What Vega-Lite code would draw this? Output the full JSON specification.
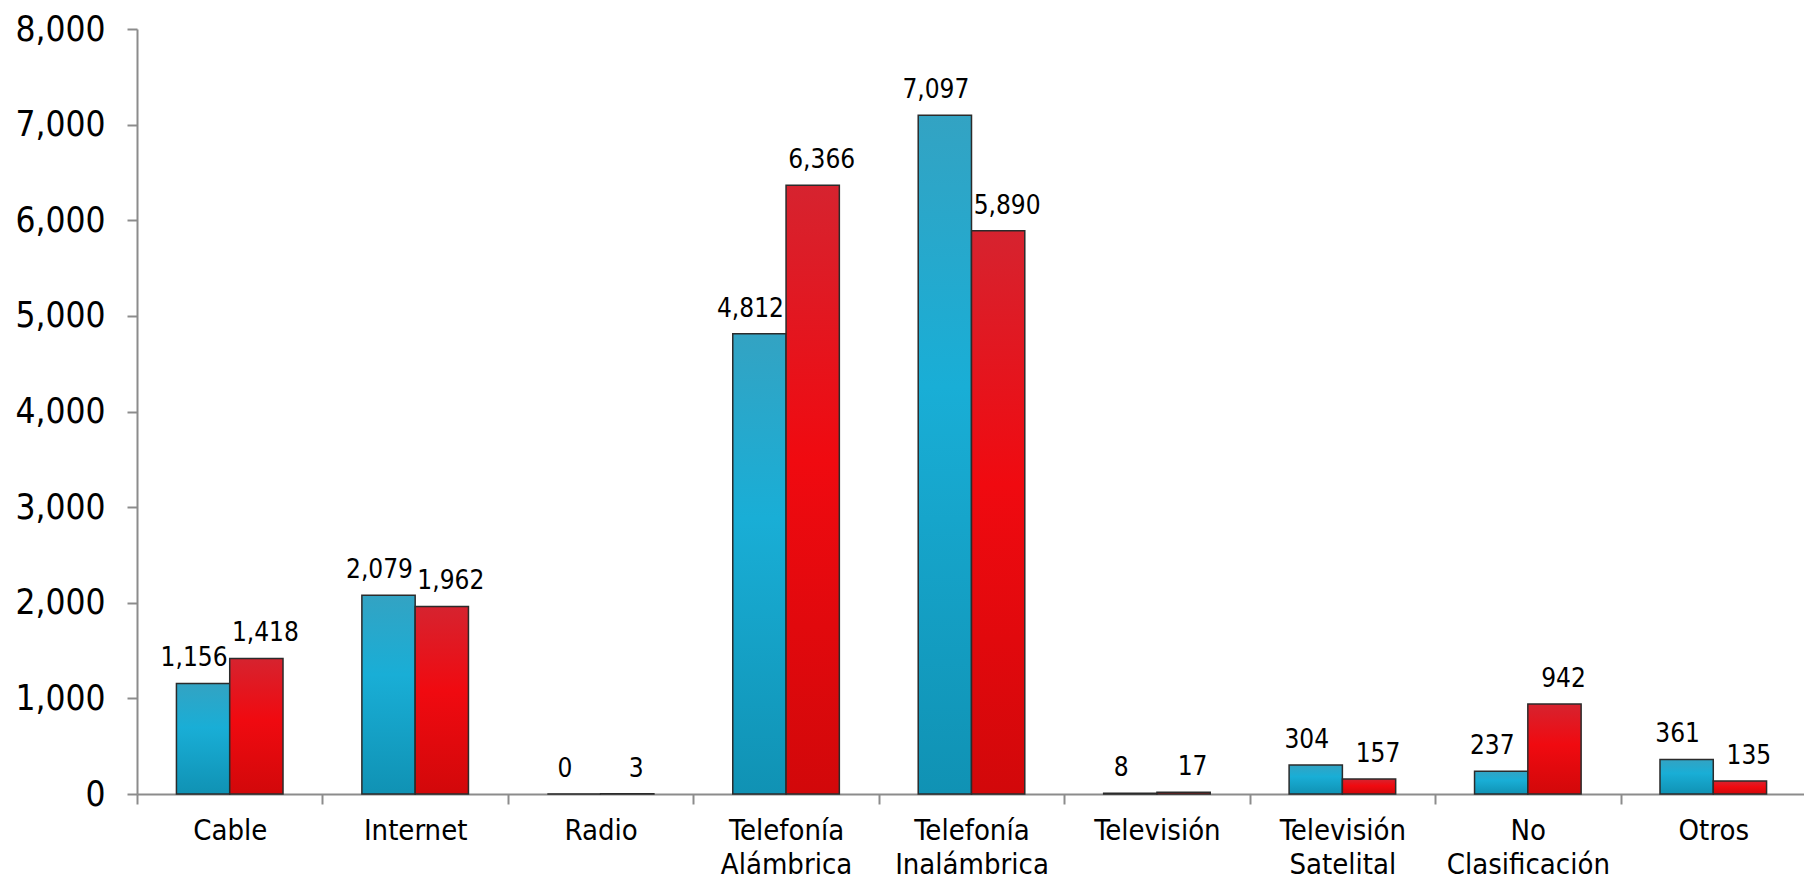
{
  "$schema": "https://vega.github.io/schema/vega-lite/v6.json",
  "autosize": {"type": "none"},
  "padding": {"left": 137, "top": 29, "right": 0, "bottom": 85},
  "width": 1669,
  "height": 765,
  "background": "white",
  "config": {
    "view": {"stroke": null},
    "font": "DejaVu Sans Condensed, DejaVu Sans",
    "text": {"font": "DejaVu Sans Condensed, DejaVu Sans"}
  },
  "data": {
    "values": [
      {"categoria": "Cable", "serie": "A", "valor": 1156},
      {"categoria": "Cable", "serie": "B", "valor": 1418},
      {"categoria": "Internet", "serie": "A", "valor": 2079},
      {"categoria": "Internet", "serie": "B", "valor": 1962},
      {"categoria": "Radio", "serie": "A", "valor": 0},
      {"categoria": "Radio", "serie": "B", "valor": 3},
      {"categoria": "Telefonía Alámbrica", "serie": "A", "valor": 4812},
      {"categoria": "Telefonía Alámbrica", "serie": "B", "valor": 6366},
      {"categoria": "Telefonía Inalámbrica", "serie": "A", "valor": 7097},
      {"categoria": "Telefonía Inalámbrica", "serie": "B", "valor": 5890},
      {"categoria": "Televisión", "serie": "A", "valor": 8},
      {"categoria": "Televisión", "serie": "B", "valor": 17},
      {"categoria": "Televisión Satelital", "serie": "A", "valor": 304},
      {"categoria": "Televisión Satelital", "serie": "B", "valor": 157},
      {"categoria": "No Clasificación", "serie": "A", "valor": 237},
      {"categoria": "No Clasificación", "serie": "B", "valor": 942},
      {"categoria": "Otros", "serie": "A", "valor": 361},
      {"categoria": "Otros", "serie": "B", "valor": 135}
    ]
  },
  "encoding": {
    "x": {
      "field": "categoria",
      "type": "nominal",
      "sort": null,
      "scale": {"paddingInner": 0, "paddingOuter": 0},
      "axis": {
        "title": null,
        "labelAngle": 0,
        "labelExpr": "split(datum.label, ' ')",
        "labelFontSize": 29,
        "labelLineHeight": 34,
        "labelColor": "#000000",
        "labelPadding": 12,
        "labelBaseline": "top",
        "domainColor": "#8c8c8c",
        "domainWidth": 2,
        "tickColor": "#8c8c8c",
        "tickWidth": 2,
        "tickSize": 10,
        "tickBand": "extent"
      }
    },
    "xOffset": {
      "field": "serie",
      "type": "nominal",
      "scale": {"domain": ["A", "B"], "paddingInner": 0, "paddingOuter": 0.74}
    },
    "y": {
      "field": "valor",
      "type": "quantitative",
      "scale": {"domain": [0, 8000], "nice": false},
      "axis": {
        "title": null,
        "values": [0, 1000, 2000, 3000, 4000, 5000, 6000, 7000, 8000],
        "format": ",d",
        "grid": false,
        "labelFontSize": 35,
        "labelColor": "#000000",
        "labelPadding": 22,
        "domainColor": "#8c8c8c",
        "domainWidth": 2,
        "tickColor": "#8c8c8c",
        "tickWidth": 2,
        "tickSize": 10
      }
    }
  },
  "layer": [
    {
      "transform": [{"filter": "datum.serie === 'A'"}],
      "mark": {
        "type": "bar",
        "stroke": "#2b2b2b",
        "strokeWidth": 1.5,
        "fill": {
          "gradient": "linear",
          "x1": 0, "y1": 0, "x2": 0, "y2": 1,
          "stops": [
            {"offset": 0, "color": "#33A3C3"},
            {"offset": 0.4, "color": "#19AED6"},
            {"offset": 1, "color": "#1092B4"}
          ]
        }
      }
    },
    {
      "transform": [{"filter": "datum.serie === 'B'"}],
      "mark": {
        "type": "bar",
        "stroke": "#2b2b2b",
        "strokeWidth": 1.5,
        "fill": {
          "gradient": "linear",
          "x1": 0, "y1": 0, "x2": 0, "y2": 1,
          "stops": [
            {"offset": 0, "color": "#D6232F"},
            {"offset": 0.45, "color": "#F00A10"},
            {"offset": 1, "color": "#D2080A"}
          ]
        }
      }
    },
    {
      "transform": [{"filter": "datum.serie === 'A'"}],
      "mark": {"type": "text", "baseline": "bottom", "dy": -12, "dx": -9, "fontSize": 26, "color": "#000000"},
      "encoding": {"text": {"field": "valor", "type": "quantitative", "format": ",d"}}
    },
    {
      "transform": [{"filter": "datum.serie === 'B'"}],
      "mark": {"type": "text", "baseline": "bottom", "dy": -12, "dx": 9, "fontSize": 26, "color": "#000000"},
      "encoding": {"text": {"field": "valor", "type": "quantitative", "format": ",d"}}
    }
  ]
}
